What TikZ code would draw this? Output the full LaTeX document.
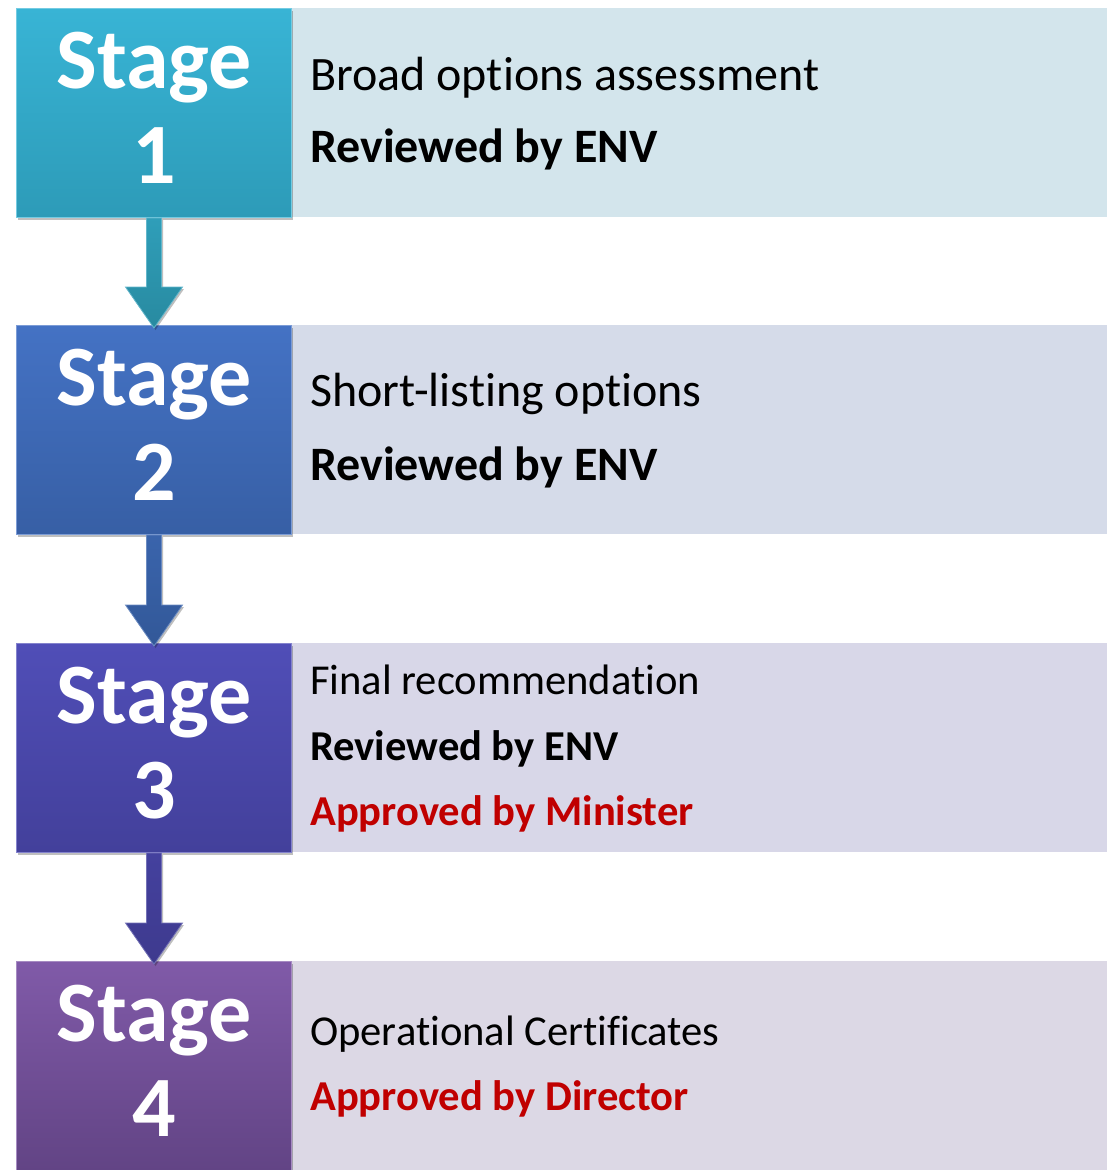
\documentclass[tikz,border=0pt]{standalone}
\usepackage{fontspec}
\setmainfont[RawFeature={-liga;-clig;-dlig;-calt;-rlig}]{Carlito}
\usetikzlibrary{calc,shadows,shadings}
\definecolor{aTop}{RGB}{56,180,213}\definecolor{aBot}{RGB}{45,155,184}\definecolor{aLight}{RGB}{211,229,236}\definecolor{aArrT}{RGB}{47,158,185}\definecolor{aArrB}{RGB}{40,138,160}
\definecolor{bTop}{RGB}{68,114,196}\definecolor{bBot}{RGB}{55,95,165}\definecolor{bLight}{RGB}{213,219,233}\definecolor{bArrT}{RGB}{58,100,172}\definecolor{bArrB}{RGB}{50,88,152}
\definecolor{cTop}{RGB}{80,78,183}\definecolor{cBot}{RGB}{67,64,155}\definecolor{cLight}{RGB}{216,215,232}\definecolor{cArrT}{RGB}{68,65,158}\definecolor{cArrB}{RGB}{62,58,142}
\definecolor{dTop}{RGB}{128,90,168}\definecolor{dBot}{RGB}{98,68,133}\definecolor{dLight}{RGB}{220,216,229}
\definecolor{redtxt}{RGB}{192,0,0}
\begin{document}
\begin{tikzpicture}[x=1pt,y=1pt,
  stagebox/.style={minimum width=275pt,minimum height=209pt,inner sep=0pt,anchor=north west,line width=1pt,
     drop shadow={shadow xshift=1.5pt,shadow yshift=-2.5pt,opacity=0.25,fill=black}},
  infobox/.style={minimum width=816pt,minimum height=209pt,inner sep=0pt,anchor=north west},
  stagetext/.style={anchor=base,text=white,font=\fontsize{86}{100}\selectfont\bfseries,inner sep=0pt},
  bigtext/.style={anchor=base west,inner sep=0pt,font=\fontsize{48}{57}\selectfont},
  smalltext/.style={anchor=base west,inner sep=0pt,font=\fontsize{42.6}{50}\selectfont},
  blockarrow/.style={line width=0.8pt,drop shadow={shadow xshift=1.5pt,shadow yshift=-2pt,opacity=0.25,fill=black}}
]
\useasboundingbox (0,0) rectangle (1107,-1170);
% info boxes
\node[infobox,fill=aLight] (i1) at (291,-8) {};
\node[infobox,fill=bLight] (i2) at (291,-325) {};
\node[infobox,fill=cLight] (i3) at (291,-643) {};
\node[infobox,fill=dLight] (i4) at (291,-961) {};
% stage boxes
\node[stagebox,top color=aTop,bottom color=aBot,draw=aTop!70!white] (s1) at (16,-8) {};
\node[stagebox,top color=bTop,bottom color=bBot,draw=bTop!70!white] (s2) at (16,-325) {};
\node[stagebox,top color=cTop,bottom color=cBot,draw=cTop!70!white] (s3) at (16,-643) {};
\node[stagebox,top color=dTop,bottom color=dBot,draw=dTop!70!white] (s4) at (16,-961) {};
% stage labels
\foreach \k/\n in {1/1,2/2,3/3,4/4}{
  \node[stagetext] (sa\k) at ($(s\k.north)+(0,-80)$) {Stage};
  \node[stagetext] (sb\k) at ($(s\k.north)+(0,-175)$) {\n};
}
% arrows
\foreach \u/\v/\c in {1/2/a,2/3/b,3/4/c}{
  \path[blockarrow,top color=\c ArrT,bottom color=\c ArrB,draw=\c ArrT!75!white]
    ($(s\u.south)+(-7.5,0)$) -- ($(s\v.north)+(-7.5,38)$) -- ($(s\v.north)+(-28.5,38)$)
    -- ($(s\v.north)+(0,-3)$) -- ($(s\v.north)+(28.5,38)$) -- ($(s\v.north)+(7.5,38)$)
    -- ($(s\u.south)+(7.5,0)$) -- cycle;
}
% texts
\node[bigtext] (t1a) at (310,-90) {Broad options assessment};
\node[bigtext] (t1b) at (310,-162) {\bfseries Reviewed by ENV};
\node[bigtext] (t2a) at (310,-406) {Short-listing options};
\node[bigtext] (t2b) at (310,-480) {\bfseries Reviewed by ENV};
\node[smalltext] (t3a) at (310,-694) {Final recommendation};
\node[smalltext] (t3b) at (310,-760) {\bfseries Reviewed by ENV};
\node[smalltext,text=redtxt] (t3c) at (310,-825) {\bfseries Approved by Minister};
\node[smalltext] (t4a) at (310,-1045) {Operational Certificates};
\node[smalltext,text=redtxt] (t4b) at (310,-1110) {\bfseries Approved by Director};
\end{tikzpicture}
\end{document}
